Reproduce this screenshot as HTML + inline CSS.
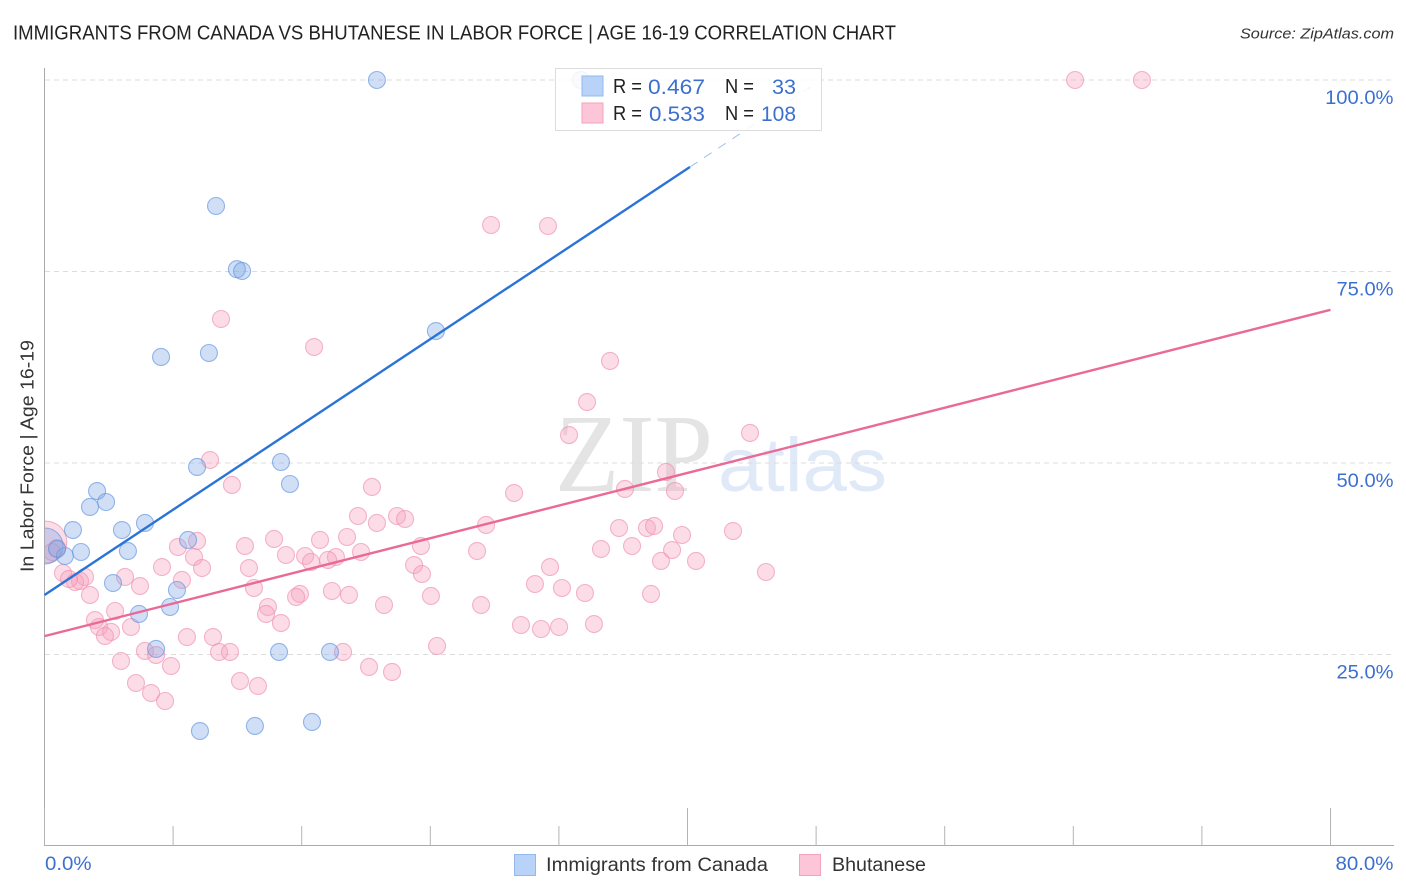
<!DOCTYPE html>
<html lang="en">
<head>
<meta charset="utf-8">
<title>Immigrants from Canada vs Bhutanese in Labor Force | Age 16-19 Correlation Chart</title>
<style>
html,body{margin:0;padding:0;background:#fff;width:1406px;height:892px;overflow:hidden}
svg{display:block}
text{font-family:"Liberation Sans",sans-serif}
</style>
</head>
<body>
<svg id="chart" xmlns="http://www.w3.org/2000/svg" width="1406" height="892" viewBox="0 0 1406 892">
  <defs>
    <clipPath id="plot-clip"><rect x="45" y="60" width="1349" height="786"/></clipPath>
  </defs>
  <text x="13" y="39.5" font-size="20" fill="#222" textLength="883" lengthAdjust="spacingAndGlyphs">IMMIGRANTS FROM CANADA VS BHUTANESE IN LABOR FORCE | AGE 16-19 CORRELATION CHART</text>
  <text x="1394" y="38.5" font-size="15" font-style="italic" fill="#333" text-anchor="end" textLength="154" lengthAdjust="spacingAndGlyphs">Source: ZipAtlas.com</text>

  <g>
    <text x="555" y="491" font-size="111" fill="#e4e4e4" textLength="158" lengthAdjust="spacingAndGlyphs" style="font-family:'Liberation Serif',serif">ZIP</text>
    <text x="718" y="491" font-size="76" fill="#dfe9f8" textLength="169" lengthAdjust="spacingAndGlyphs">atlas</text>
  </g>

  <g id="grid"></g>
  <g id="axes"></g>
  <g id="pink-points" clip-path="url(#plot-clip)"></g>
  <g id="blue-points" clip-path="url(#plot-clip)"></g>
  <g id="trends"></g>
  <g id="tick-labels"></g>

  <text transform="translate(33.5,456) rotate(-90)" font-size="18" fill="#333" text-anchor="middle" textLength="232" lengthAdjust="spacingAndGlyphs">In Labor Force | Age 16-19</text>

  <g>
    <rect x="555.5" y="68.5" width="266" height="62" fill="#fff" fill-opacity="0.86" stroke="#dcdcdc" stroke-width="1"/>
    <rect x="582" y="76" width="21" height="20" fill="#b8d3f7" stroke="#92b9ee" stroke-width="1"/>
    <rect x="582" y="103" width="21" height="20" fill="#fcc6d8" stroke="#f3a3be" stroke-width="1"/>
    <g font-size="20" fill="#222">
      <text x="613" y="93" textLength="29" lengthAdjust="spacingAndGlyphs">R =</text>
      <text x="725" y="93" textLength="29" lengthAdjust="spacingAndGlyphs">N =</text>
      <text x="613" y="120" textLength="29" lengthAdjust="spacingAndGlyphs">R =</text>
      <text x="725" y="120" textLength="29" lengthAdjust="spacingAndGlyphs">N =</text>
    </g>
    <g font-size="21" fill="#3c70d0">
      <text x="648" y="94" textLength="57" lengthAdjust="spacingAndGlyphs">0.467</text>
      <text x="772" y="94" textLength="24" lengthAdjust="spacingAndGlyphs">33</text>
      <text x="649" y="121" textLength="56" lengthAdjust="spacingAndGlyphs">0.533</text>
      <text x="761" y="121" textLength="35" lengthAdjust="spacingAndGlyphs">108</text>
    </g>
  </g>

  <g>
    <rect x="514.5" y="854.5" width="21" height="21" fill="#b8d3f7" stroke="#92b9ee" stroke-width="1"/>
    <text x="546" y="871" font-size="19" fill="#333" textLength="222" lengthAdjust="spacingAndGlyphs">Immigrants from Canada</text>
    <rect x="799.5" y="854.5" width="21" height="21" fill="#fcc6d8" stroke="#f3a3be" stroke-width="1"/>
    <text x="832" y="871" font-size="19" fill="#333" textLength="94" lengthAdjust="spacingAndGlyphs">Bhutanese</text>
  </g>
</svg>

<script>
const yTickValues = [25, 50, 75, 100];
const yTickLabels = ["25.0%", "50.0%", "75.0%", "100.0%"];
const xTickValues = [0, 8, 16, 24, 32, 40, 48, 56, 64, 72, 80];
const xMajorTicks = [0, 40, 80];
const xEndValues = [0, 80];
const xEndLabels = ["0.0%", "80.0%"];

const canadaX = [20.68,33.37,10.67,11.97,12.29,7.25,10.23,24.35,9.49,14.71,15.27,3.27,3.83,2.83,1.77,4.82,6.25,8.93,5.19,2.27,1.27,0.78,4.26,8.24,5.88,7.81,6.94,14.59,17.76,9.67,13.09,16.64];
const canadaY = [100,100,83.55,75.3,75.07,63.84,64.36,67.23,49.48,50.13,47.26,46.34,44.91,44.26,41.25,41.25,42.17,39.95,38.51,38.38,37.86,38.77,34.33,33.42,30.29,31.2,25.72,25.33,25.33,15.01,15.67,16.19];
const canadaClusterX = [0.03];
const canadaClusterY = [39.16];
const canadaClusterWeight = [4.5];

const bhutaneseX = [64.11,68.27,27.78,31.32,10.98,16.77,35.18,33.75,32.63,43.89,10.30,11.66,20.37,29.21,38.66,39.22,36.11,19.50,20.68,21.93,22.43,27.47,35.74,37.48,37.92,39.66,42.83,14.28,17.14,18.82,9.49,8.30,12.47,23.42,26.91,34.62,36.55,39.04,15.02,16.21,18.13,19.69,16.58,17.64,9.30,9.80,12.72,7.31,22.99,23.48,31.45,38.35,40.53,44.88,30.51,32.19,33.62,24.04,17.88,18.94,13.03,8.55,5.94,5.01,2.52,1.15,1.90,2.21,1.52,2.83,15.89,15.65,37.73,21.12,27.16,13.90,13.78,4.39,3.14,3.39,4.14,3.76,5.38,14.71,29.64,30.89,32.01,34.18,8.86,10.48,24.42,6.25,6.94,10.86,11.54,18.57,4.76,7.87,20.19,21.62,5.69,12.16,13.28,6.63,7.50,0.78,0.47];
const bhutaneseY = [100,100,81.07,80.94,68.80,65.14,63.32,57.96,53.65,53.92,50.39,47.13,46.87,46.08,48.83,46.34,46.61,43.08,42.17,43.08,42.69,41.91,41.51,41.51,41.78,40.60,41.12,40.08,39.95,40.34,39.82,39.03,39.16,39.16,38.51,38.77,39.16,38.64,37.99,37.86,37.73,38.38,37.08,37.34,37.73,36.29,36.29,36.42,36.68,35.51,36.42,37.21,37.21,35.77,34.20,33.68,33.03,32.64,33.29,32.77,33.68,34.73,33.94,35.12,35.12,35.64,34.46,34.60,34.86,32.77,32.90,32.51,32.90,31.46,31.46,31.20,30.29,30.68,29.50,28.59,27.94,27.42,28.59,29.11,28.85,28.33,28.59,28.98,27.28,27.28,26.11,25.46,24.93,25.33,25.33,25.33,24.15,23.50,23.37,22.72,21.28,21.54,20.89,19.97,18.93,38.90,38.38];
const bhutaneseClusterX = [0.09];
const bhutaneseClusterY = [39.69];
const bhutaneseClusterWeight = [6];

const canadaTrendIntercept = 32.77;
const canadaTrendSlope = 1.3915;
const canadaTrendSolidEnd = 40.15;
const canadaTrendDashEnd = 47.9;
const bhutaneseTrendIntercept = 27.4;
const bhutaneseTrendSlope = 0.5325;
const bhutaneseTrendEnd = 80;

const NS = 'http://www.w3.org/2000/svg';
const sx = v => 44.5 + v * 16.075;
const sy = v => 846 - v * 7.66;
const baseRadius = 8.5;
const charWidth = 11.4;

function mk(tag, parentId, attrs) {
  const el = document.createElementNS(NS, tag);
  Object.keys(attrs).forEach(k => el.setAttribute(k, attrs[k]));
  document.getElementById(parentId).appendChild(el);
  return el;
}

yTickValues.forEach((v, i) => {
  const line = mk('line', 'grid', {x1: 45, x2: 1393, y1: sy(v), y2: sy(v), stroke: '#dcdcdc', 'stroke-width': 1, 'stroke-dasharray': '5 4'});
  
  
  const label = mk('text', 'tick-labels', {x: 1393.5, y: sy(v) + 24, 'font-size': 19.5, fill: '#3c70d0', 'text-anchor': 'end', textLength: yTickLabels[i].length * charWidth, lengthAdjust: 'spacingAndGlyphs'});
  label.textContent = yTickLabels[i];
  
  
});

const yAxis = mk('line', 'axes', {x1: 44.5, x2: 44.5, y1: 68, y2: 846, stroke: '#aaa', 'stroke-width': 1});


const xAxis = mk('line', 'axes', {x1: 44, x2: 1394, y1: 845.5, y2: 845.5, stroke: '#aaa', 'stroke-width': 1});



xTickValues.forEach(v => {
  const major = xMajorTicks.indexOf(v) >= 0;
  const tick = mk('line', 'axes', {x1: sx(v), x2: sx(v), y1: major ? 808 : 826, y2: 846, stroke: '#b4b4b4', 'stroke-width': 1});
  
  
});

xEndValues.forEach((v, i) => {
  const label = mk('text', 'tick-labels', {x: i === 0 ? sx(v) + 0.5 : sx(v) + 63, y: 870, 'font-size': 19.5, fill: '#3c70d0', 'text-anchor': i === 0 ? 'start' : 'end', textLength: xEndLabels[i].length * charWidth + 1, lengthAdjust: 'spacingAndGlyphs'});
  label.textContent = xEndLabels[i];
  
  
});

function drawPoint(groupId, x, y, r, fill, stroke) {
  return mk('circle', groupId, {cx: sx(x), cy: sy(y), r: r, fill: fill, 'fill-opacity': 0.37, stroke: stroke, 'stroke-opacity': 0.65, 'stroke-width': 1.1});
}

bhutaneseClusterX.forEach((x, i) => {
  const c = drawPoint('pink-points', x, bhutaneseClusterY[i], baseRadius * Math.sqrt(bhutaneseClusterWeight[i]), '#f6a3bd', '#ee8fae');
  
  
});
bhutaneseX.forEach((x, i) => {
  const c = drawPoint('pink-points', x, bhutaneseY[i], baseRadius, '#f6a3bd', '#ee8fae');
  
  
});
canadaClusterX.forEach((x, i) => {
  const c = drawPoint('blue-points', x, canadaClusterY[i], baseRadius * Math.sqrt(canadaClusterWeight[i]), '#7fa9e6', '#5f94df');
  
  
});
canadaX.forEach((x, i) => {
  const c = drawPoint('blue-points', x, canadaY[i], baseRadius, '#7fa9e6', '#5f94df');
  
  
});

const canadaY0 = canadaTrendIntercept;
const canadaY1 = canadaTrendIntercept + canadaTrendSlope * canadaTrendSolidEnd;
const canadaY2 = canadaTrendIntercept + canadaTrendSlope * canadaTrendDashEnd;
const canadaDash = mk('line', 'trends', {x1: sx(canadaTrendSolidEnd), y1: sy(canadaY1), x2: sx(canadaTrendDashEnd), y2: sy(canadaY2), stroke: '#9dbdea', 'stroke-width': 1, 'stroke-dasharray': '9 8'});


const canadaLine = mk('line', 'trends', {x1: sx(0), y1: sy(canadaY0), x2: sx(canadaTrendSolidEnd), y2: sy(canadaY1), stroke: '#2a74d8', 'stroke-width': 2.4});


const pinkLine = mk('line', 'trends', {x1: sx(0), y1: sy(bhutaneseTrendIntercept), x2: sx(bhutaneseTrendEnd), y2: sy(bhutaneseTrendIntercept + bhutaneseTrendSlope * bhutaneseTrendEnd), stroke: '#ea6a97', 'stroke-width': 2.4});


</script>
</body>
</html>
